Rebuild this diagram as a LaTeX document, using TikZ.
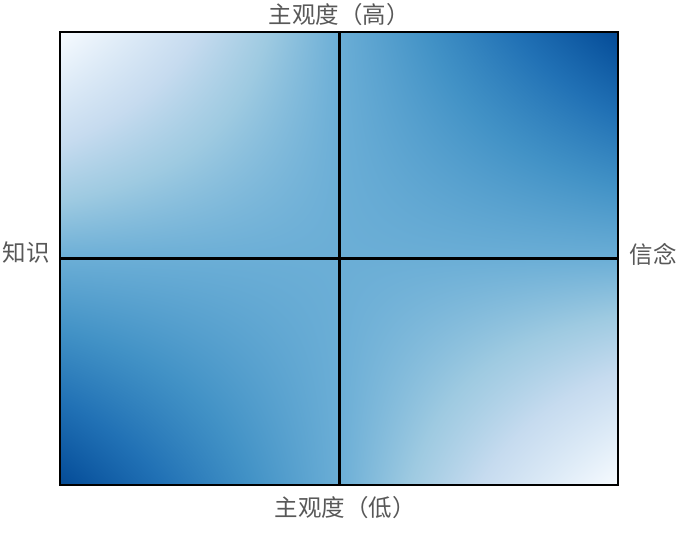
\documentclass[tikz,border=0pt]{standalone}
\usepackage{fontspec}
\newfontfamily\cjk{Noto Sans CJK SC}
\definecolor{labelgray}{RGB}{88,88,88}
\pgfdeclarefunctionalshading{saddle}{\pgfpoint{0bp}{0bp}}{\pgfpoint{100bp}{100bp}}{}{
 25 sub 50 div
 exch 25 sub 50 div
 2 copy mul
 3 1 roll
 1 exch sub
 exch 1 exch sub
 mul add
 dup 0.5 gt {0.5 sub 0.8 mul 0.5 add} if
 dup 0 lt {pop 0} if
 dup 1 gt {pop 1} if
 dup 0.5 lt {
   dup 0.25 lt {
     dup 0.125 lt
     {0 sub 8 mul dup -0.0980 mul 0.9686 add exch dup -0.0627 mul 0.9843 add exch -0.0314 mul 1.0 add}
     {0.125 sub 8 mul dup -0.0941 mul 0.8706 add exch dup -0.0628 mul 0.9216 add exch -0.0313 mul 0.9686 add}
     ifelse
   }{
     dup 0.375 lt
     {0.25 sub 8 mul dup -0.1569 mul 0.7765 add exch dup -0.0666 mul 0.8588 add exch -0.0549 mul 0.9373 add}
     {0.375 sub 8 mul dup -0.2000 mul 0.6196 add exch dup -0.1098 mul 0.7922 add exch -0.0432 mul 0.8824 add}
     ifelse
   } ifelse
 }{
   dup 0.75 lt {
     dup 0.625 lt
     {0.5 sub 8 mul dup -0.1608 mul 0.4196 add exch dup -0.1099 mul 0.6824 add exch -0.0627 mul 0.8392 add}
     {0.625 sub 8 mul dup -0.1294 mul 0.2588 add exch dup -0.1294 mul 0.5725 add exch -0.0667 mul 0.7765 add}
     ifelse
   }{
     dup 0.875 lt
     {0.75 sub 8 mul dup -0.0980 mul 0.1294 add exch dup -0.1255 mul 0.4431 add exch -0.0980 mul 0.7098 add}
     {0.875 sub 8 mul dup 0 mul 0.0314 add exch dup -0.1294 mul 0.3176 add exch -0.1922 mul 0.6118 add}
     ifelse
   } ifelse
 } ifelse
}
\tikzset{
  axislabel/.style={font=\cjk\fontsize{23.5}{28}\selectfont, text=labelgray, inner sep=0pt, anchor=center},
  frameline/.style={draw=black, line width=2pt},
  crossline/.style={draw=black, line width=3pt},
}
\begin{document}
\begin{tikzpicture}[x=1pt,y=-1pt]
\useasboundingbox (0,0) rectangle (691,537);
\coordinate (tl) at (60,32);
\coordinate (br) at (618,485);
\coordinate (tm) at (339,32);
\coordinate (bm) at (339,485);
\coordinate (lm) at (60,259);
\coordinate (rm) at (618,259);
\shade[shading=saddle] (tl) rectangle (br);
\draw[crossline] (tm) -- (bm);
\draw[crossline] (lm) -- (rm);
\draw[frameline] (tl) rectangle (br);
\node[axislabel] (top) at (339,15) {主观度（高）};
\node[axislabel] (bottom) at (345,508) {主观度（低）};
\node[axislabel] (left) at (26,253) {知识};
\node[axislabel] (right) at (653,254) {信念};
\end{tikzpicture}
\end{document}
